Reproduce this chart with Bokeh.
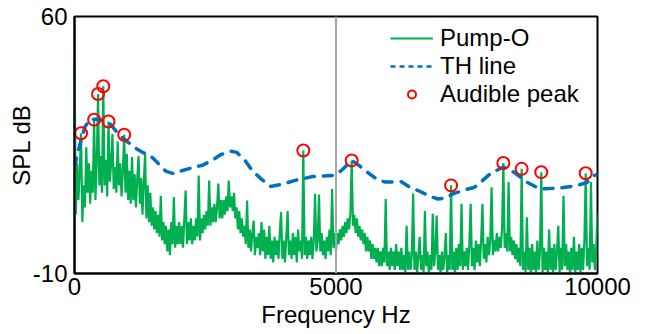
from bokeh.plotting import figure
from bokeh.models import Range1d, FixedTicker, Span, Legend, LegendItem
from bokeh.embed import file_html
from bokeh.resources import INLINE
import numpy as np

# ---------------- data ----------------
# Pump-O spectrum, SPL (dB) on a 25 Hz grid from 0 to 10000 Hz (one row = 500 Hz)
pump_spl = [
    50, 6, 20, 10, 18, 28.2, 4, 14, 8, 24.4, 12, 20, 9, 18, 12, 31.9, 10, 20, 38.9, 14,
    22, 12, 41, 14, 21, 11, 31.4, 15, 20, 28, 13, 19, 12, 26, 14, 20, 11, 18, 27.8, 12,
    22.6, 10, 18, 9, 21.7, 10, 17, 8, 16, 22, 9, 16, 6, 15, 22.6, 5, 14, 4, 12, 3,
    8, 2, 7, 1, 6, 0, 11.2, -1, 4, -2, 3, -4, 2, -5, 4, -2, 10.8, -3, 3, -2,
    4, -2, 3, -3, 5, 12.6, -2, 4, -1, 5, -2, 3, -1, 5, 0, 16.7, -1, 5, 1, 6,
    2, 7, 3, 15.3, 3, 8, 4, 9, 4, 8, 14.5, 5, 10, 5, 10, 6, 11, 7, 15.3, 8,
    11, 7, 12, 5, 8, 2, 7, 1, 5, 0, 3, -2, 9.9, -3, 2, -4, 1, 4.4, -5, 0,
    -3, 1, -5, 4, -4, 2, -6, 0, -5, 3, -6, -1, -7, 0, -5, -1, -6, 1, 6.7, -6,
    -1, -7, 0, 7, -5, -1, -6, 1, -5, 0, -7, 2, -4, -1, -6, 23.5, -5, 0, -6, -1,
    -5, 0, -6, -1, 11.7, -4, -1, 11.5, -4, 1, -5, -1, -6, 0, -4, 2, -5, 13, -3, 1,
    -4, 1, -2, 2, -1, 3, 0, 4, 1, 5, 2, 6.3, 20.8, 3, 6, 1, 5, 0, 3, -1,
    2, -2, 1, -4, 0, -4, -1, -6, -2, -6, -3, -7, -3, -8, -4, -8, -3, -7, 10.3, -8,
    -4, -9, -3, -8, -4, -9, -2, -8, -4, -9, -3, -9, -5, -10, 3, -9, -4, -9, -5, 11.8,
    -9, -4, -10, -5, 0, -9, -5, -10, 7, -8, -4, -10, -5, -9, 6.3, -8, -4, 5.8, -9, -5,
    -10, -4, -9, -5, 1, -10, -5, -9, 14, -9, -4, -10, -3, -9, -2, -8, 9, -9, -4, -8,
    -3, -9, -2, 9, -8, -3, -9, -1, -7, -2, -8, -1, 9, -6, -2, -7, 0, -5, -1, 13.5,
    -5, -1, -4, 1, -4, 0, -3, 2, 20.1, -3, 1, -4, 14.9, -4, 0, -5, -1, -6, -2, -7,
    -3, -8, 18.5, -9, -4, -10, 5.3, -9, -3, -10, -2, -9, -4, -10, -1, -9, -4, 17.6, -10, -3,
    -9, -4, -10, 2, -9, -3, -10, -2, -9, -4, 3, -10, -3, -9, 11.2, -8, -2, -9, -4, -10,
    -3, -9, 0, -10, -4, -9, -2, -10, -3, -9, -1, 17.3, -8, -3, -9, 14.9, -7, -2, -9, -3,
    6.3,
]
pump_freq = np.arange(len(pump_spl)) * 25.0   # frequency grid of the spectrum, Hz

# Threshold (TH) line
th_freq = [0, 100, 200, 300, 450, 600, 700, 850, 1000, 1150,
           1300, 1450, 1600, 1750, 1900, 2050, 2250, 2450, 2650, 2800,
           3000, 3100, 3250, 3400, 3550, 3750, 4000, 4200, 4550, 4950,
           5100, 5300, 5450, 5600, 5800, 5950, 6250, 6400, 6600, 6800,
           6950, 7100, 7250, 7450, 7650, 7800, 7950, 8200, 8400, 8650,
           8900, 9300, 9600, 9800, 9930, 10000]
th_spl = [19, 25, 30, 32, 32, 31.5, 30.5, 27.8, 26, 24.3,
          23, 22.1, 20, 17.8, 17.2, 18, 18.8, 19.5, 21, 22.4,
          23.3, 23, 21, 18, 16, 13.7, 14.4, 15.3, 16.4, 16.7,
          18, 20.8, 19.3, 17.6, 15.5, 14.9, 15, 13.6, 12.4, 11,
          10.3, 10.6, 11.8, 12.7, 13.5, 15.3, 17.2, 19, 17.6, 14.9,
          13, 13.3, 13.9, 14.8, 16.7, 17]

# Audible peaks
peak_freq = [125, 375, 450, 550, 650, 950, 4375, 5300, 7200, 8200, 8550, 8925, 9775]
peak_spl = [28.2, 31.9, 38.9, 41.0, 31.4, 27.8, 23.5, 20.8, 14.0, 20.1, 18.5, 17.6, 17.3]

x_ticks = [0, 5000, 10000]
y_ticks = [-10, 60]
y_tick_text = {-10: "-10", 60: "60"}
marker_freq = 5000

# ---------------- figure ----------------
FONT = "Liberation Sans"
FS = "24px"
GREEN = "#00B050"
BLUE = "#0070C0"
RED = "#FF0000"

p = figure(width=640, height=334, x_range=Range1d(0, 10000), y_range=Range1d(-10, 60),
           output_backend="svg", toolbar_location=None,
           min_border_left=74, min_border_right=43, min_border_top=16, min_border_bottom=61)
p.xgrid.visible = False
p.ygrid.visible = False
p.outline_line_color = "black"
p.outline_line_width = 2
p.background_fill_color = "white"
p.border_fill_color = "white"

p.xaxis.ticker = FixedTicker(ticks=x_ticks)
p.yaxis.ticker = FixedTicker(ticks=y_ticks)
p.yaxis.major_label_overrides = y_tick_text
for ax in (p.xaxis[0], p.yaxis[0]):
    ax.major_tick_in = 0
    ax.major_tick_out = 0
    ax.minor_tick_in = 0
    ax.minor_tick_out = 0
    ax.axis_line_color = "black"
    ax.axis_line_width = 2
    ax.major_label_text_font = FONT
    ax.major_label_text_font_size = FS
    ax.major_label_text_color = "black"
    ax.axis_label_text_font = FONT
    ax.axis_label_text_font_size = FS
    ax.axis_label_text_font_style = "normal"
    ax.axis_label_text_color = "black"
p.xaxis.axis_label = "Frequency Hz"
p.yaxis.axis_label = "SPL dB"
p.xaxis.major_label_standoff = 4
p.xaxis.axis_label_standoff = 3
p.yaxis.major_label_standoff = 7
p.yaxis.axis_label_standoff = -5

pump_r = p.line(pump_freq, pump_spl, line_color=GREEN, line_width=2.2)
p.line(th_freq, th_spl, line_color=BLUE, line_width=3.5, line_dash="9 9", line_cap="round")
p.scatter(peak_freq, peak_spl, marker="circle", size=12, fill_color=None,
          line_color=RED, line_width=2)

p.add_layout(Span(location=marker_freq, dimension="height", line_color="#A6A6A6", line_width=2))

# hidden renderers that only carry the legend styling
lg_th = p.line(th_freq, th_spl, line_color=BLUE, line_width=2.5, line_dash="5 4", visible=False)
lg_peak = p.scatter(peak_freq, peak_spl, marker="circle", size=8, fill_color=None,
                    line_color=RED, line_width=2, visible=False)
legend = Legend(items=[LegendItem(label="Pump-O", renderers=[pump_r]),
                       LegendItem(label="TH line", renderers=[lg_th]),
                       LegendItem(label="Audible peak", renderers=[lg_peak])],
                location=(316, 165), margin=0, padding=0, spacing=0,
                glyph_width=43, glyph_height=20, label_height=20, label_standoff=7,
                label_text_font=FONT, label_text_font_size=FS, label_text_color="black",
                background_fill_alpha=0, border_line_alpha=0, inactive_fill_alpha=0)
p.add_layout(legend)

open("out.html", "w").write(file_html(p, INLINE))
